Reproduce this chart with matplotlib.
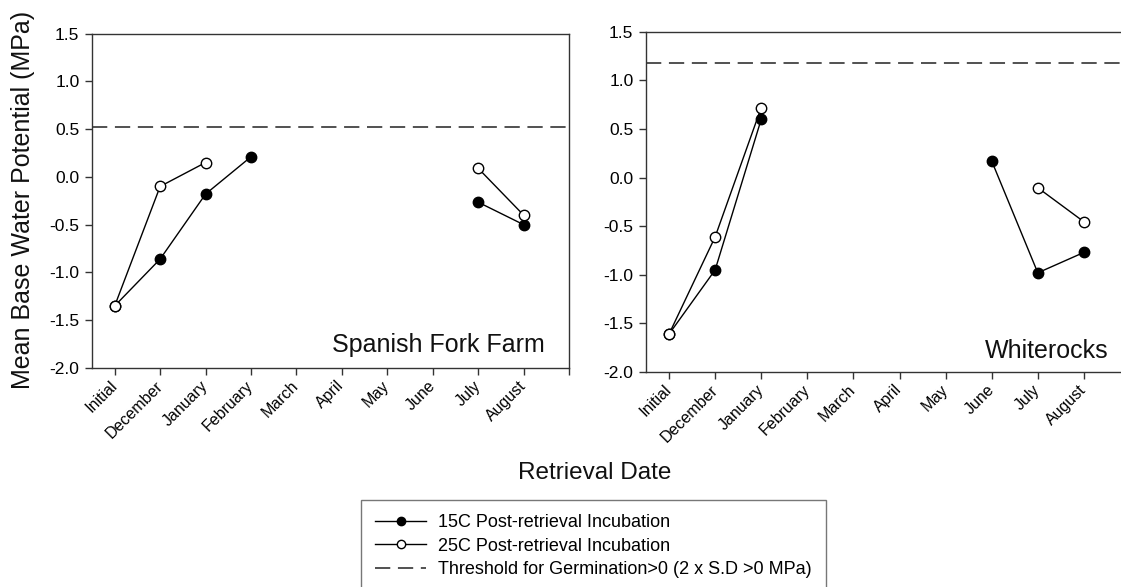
import numpy as np
import matplotlib
matplotlib.use("Agg")
import matplotlib.pyplot as plt

plt.rcParams['font.family'] = ['Liberation Sans', 'DejaVu Sans']

months = ['Initial', 'December', 'January', 'February', 'March', 'April',
          'May', 'June', 'July', 'August']
nan = np.nan

# Spanish Fork Farm
sf_15 = [-1.35, -0.86, -0.18, 0.21, nan, nan, nan, nan, -0.265, -0.50]
sf_25 = [-1.35, -0.10, 0.15, nan, nan, nan, nan, nan, 0.09, -0.40]
sf_thresh = 0.52

# Whiterocks
wr_15 = [-1.61, -0.95, 0.60, nan, nan, nan, nan, 0.17, -0.98, -0.77]
wr_25 = [-1.61, -0.61, 0.72, nan, nan, nan, nan, nan, -0.105, -0.455]
wr_thresh = 1.18

yticks = [-2.0, -1.5, -1.0, -0.5, 0.0, 0.5, 1.0, 1.5]

W, H = 1121, 587
fig = plt.figure(figsize=(W / 100, H / 100), dpi=100)

def px_axes(x0, y0, x1, y1):
    return fig.add_axes([x0 / W, 1 - y1 / H, (x1 - x0) / W, (y1 - y0) / H])

ax1 = px_axes(92, 33.5, 569, 368)
ax2 = px_axes(646, 31.7, 1130, 372)

spine_col = '#333333'
handles = None
for ax, d15, d25, th, name, tx, ty in [
        (ax1, sf_15, sf_25, sf_thresh, 'Spanish Fork Farm', 0.95, 0.048),
        (ax2, wr_15, wr_25, wr_thresh, 'Whiterocks', 0.955, 0.041)]:
    x = np.arange(len(months))
    h1, = ax.plot(x, d15, color='black', lw=1.0, marker='o', ms=7.5,
                  mfc='black', mec='black', mew=1.0,
                  label='15C Post-retrieval Incubation', zorder=3)
    h2, = ax.plot(x, d25, color='black', lw=1.0, marker='o', ms=7.5,
                  mfc='white', mec='black', mew=1.0,
                  label='25C Post-retrieval Incubation', zorder=4)
    h3 = ax.axhline(th, color='#222222', lw=1.1, dashes=(10, 5),
                    label='Threshold for Germination>0 (2 x S.D >0 MPa)')
    if handles is None:
        handles = [h1, h2, h3]
    ax.set_xlim(-0.5, 10)
    ax.set_ylim(-2.0, 1.5)
    ax.set_xticks(np.arange(11))
    ax.set_xticklabels(months + [''], rotation=45, ha='right', va='center',
                       rotation_mode='anchor', fontsize=11.5)
    ax.set_yticks(yticks)
    ax.set_yticklabels(['%.1f' % v for v in yticks], fontsize=12.5)
    ax.tick_params(direction='out', length=5, width=1, color=spine_col)
    ax.tick_params(axis='x', pad=6)
    ax.tick_params(axis='y', pad=4)
    for s in ax.spines.values():
        s.set_color(spine_col)
        s.set_linewidth(1.0)
    ax.text(tx, ty, name, transform=ax.transAxes, ha='right', va='baseline',
            fontsize=18, color='#111111')

fig.text(23 / W, 1 - 200 / H, 'Mean Base Water Potential (MPa)', rotation=90,
         ha='center', va='center', fontsize=18, color='#111111')
fig.text(595 / W, 1 - 473 / H, 'Retrieval Date', ha='center', va='center',
         fontsize=17.5, color='#111111')

leg = fig.legend(handles=handles, loc='upper left',
                 bbox_to_anchor=(361 / W, 1 - 500 / H), borderaxespad=0,
                 fontsize=13, frameon=True, fancybox=False, handlelength=2.8,
                 handletextpad=0.65, borderpad=0.8, labelspacing=0.35,
                 markerscale=0.8)
leg.get_frame().set_edgecolor('#555555')
leg.get_frame().set_linewidth(1.0)

fig.savefig('out.png', dpi=100)
